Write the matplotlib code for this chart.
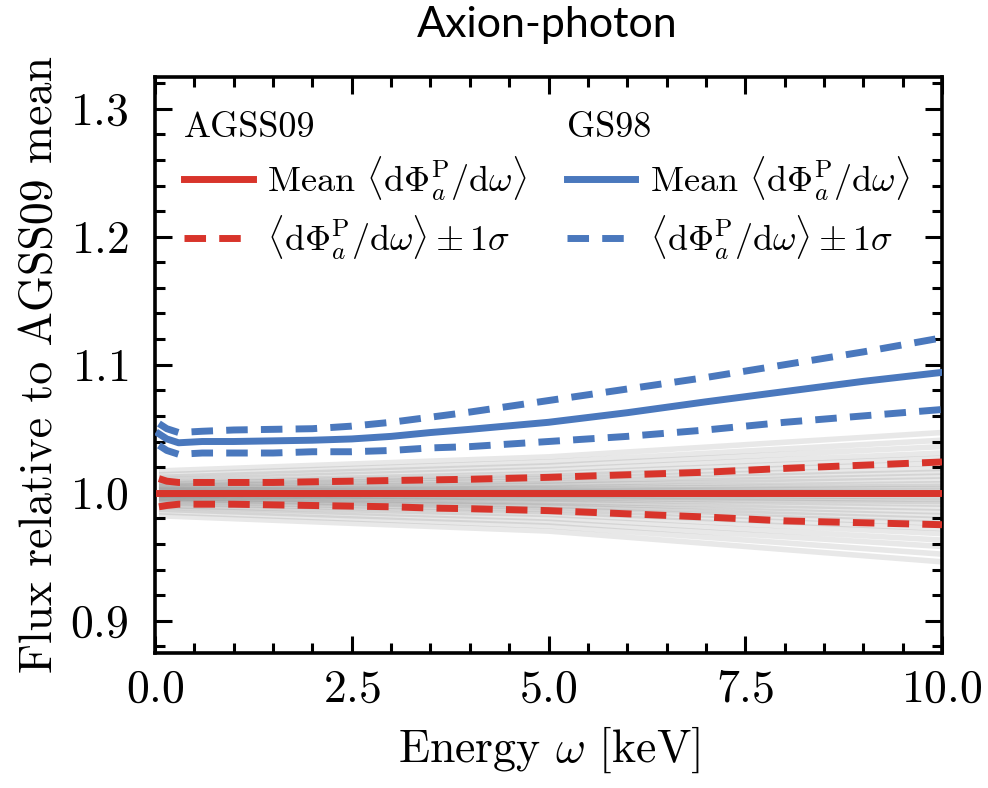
import numpy as np
import matplotlib
matplotlib.use("Agg")
import matplotlib.pyplot as plt
from matplotlib.ticker import MultipleLocator

plt.rcParams.update({
    "font.family": "serif",
    "font.serif": ["cmr10"],
    "mathtext.fontset": "cm",
    "axes.formatter.use_mathtext": True,
    "axes.unicode_minus": False,
})

# ---- data ----
energy_knots = [0.05, 0.15, 0.3, 0.6, 1.0, 1.5, 2.0, 2.5, 3.0, 3.5, 4.0,
                5.0, 6.0, 7.0, 8.0, 9.0, 10.0]
agss_mean = [1.000] * 17
agss_upper = [1.011, 1.009, 1.008, 1.008, 1.008, 1.008, 1.0085, 1.009, 1.0095, 1.010,
              1.0105, 1.012, 1.014, 1.016, 1.019, 1.0215, 1.024]
agss_lower = [0.989, 0.990, 0.991, 0.991, 0.991, 0.9905, 0.990, 0.9895, 0.989, 0.988,
              0.9875, 0.986, 0.9835, 0.981, 0.978, 0.9765, 0.975]
gs98_mean = [1.046, 1.042, 1.039, 1.040, 1.040, 1.0405, 1.041, 1.042, 1.044, 1.047,
             1.0495, 1.055, 1.0625, 1.071, 1.079, 1.087, 1.094]
gs98_upper = [1.054, 1.050, 1.047, 1.048, 1.049, 1.0495, 1.050, 1.052, 1.055, 1.059,
              1.063, 1.072, 1.081, 1.090, 1.100, 1.110, 1.121]
gs98_lower = [1.037, 1.033, 1.030, 1.031, 1.031, 1.031, 1.032, 1.032, 1.033, 1.035,
              1.036, 1.040, 1.044, 1.049, 1.055, 1.060, 1.065]

gray_knots = [0.05, 5.0, 10.0]
gray_start = [0.982, 0.985, 0.987, 0.989, 0.990, 0.992, 0.993, 0.994, 0.995, 0.996,
              0.996, 0.997, 0.998, 0.998, 0.999, 1.000, 1.000, 1.001, 1.002, 1.002,
              1.003, 1.004, 1.005, 1.006, 1.007, 1.008, 1.010, 1.012, 1.014, 1.017]
gray_mid = [0.970, 0.974, 0.977, 0.980, 0.983, 0.985, 0.987, 0.989, 0.990, 0.992,
            0.993, 0.995, 0.996, 0.997, 0.998, 0.999, 1.001, 1.002, 1.003, 1.004,
            1.006, 1.007, 1.009, 1.011, 1.013, 1.015, 1.018, 1.021, 1.024, 1.028]
gray_end = [0.946, 0.952, 0.958, 0.963, 0.968, 0.972, 0.976, 0.979, 0.982, 0.985,
            0.988, 0.991, 0.993, 0.995, 0.997, 0.999, 1.001, 1.003, 1.005, 1.007,
            1.010, 1.013, 1.016, 1.019, 1.023, 1.027, 1.031, 1.036, 1.041, 1.047]

RED = "#d8342b"
BLUE = "#4a78bd"

fig = plt.figure(figsize=(9.88, 7.88), dpi=100)
ax = fig.add_axes([155 / 988, 1 - 652.7 / 788, 787 / 988, 576 / 788])

for s, m, e in zip(gray_start, gray_mid, gray_end):
    ax.plot(gray_knots, [s, m, e], color="0.4", alpha=0.15, lw=4, zorder=1,
            solid_capstyle="butt")

lw = 5
dash = (3.1, 1.9)
l1, = ax.plot(energy_knots, agss_mean, color=RED, lw=lw, zorder=3)
l2, = ax.plot(energy_knots, agss_upper, color=RED, lw=lw, ls=(0, dash), zorder=3)
ax.plot(energy_knots, agss_lower, color=RED, lw=lw, ls=(0, dash), zorder=3)
l3, = ax.plot(energy_knots, gs98_mean, color=BLUE, lw=lw, zorder=3)
l4, = ax.plot(energy_knots, gs98_upper, color=BLUE, lw=lw, ls=(0, dash), zorder=3)
ax.plot(energy_knots, gs98_lower, color=BLUE, lw=lw, ls=(0, dash), zorder=3)

ax.set_xlim(0, 10)
ax.set_ylim(0.875, 1.325)
ax.xaxis.set_major_locator(MultipleLocator(2.5))
ax.xaxis.set_minor_locator(MultipleLocator(0.5))
ax.yaxis.set_major_locator(MultipleLocator(0.1))
ax.yaxis.set_minor_locator(MultipleLocator(0.02))
ax.tick_params(which="both", direction="in", top=True, right=True, width=2.2,
               labelsize=33)
ax.tick_params(axis="x", which="both", pad=12)
ax.tick_params(axis="y", which="both", pad=19)
ax.tick_params(which="major", length=12)
ax.tick_params(which="minor", length=7)
for sp in ax.spines.values():
    sp.set_linewidth(2.6)

ax.set_xlabel(r"Energy $\omega$ [keV]", fontsize=33, labelpad=10)
ax.set_ylabel("Flux relative to AGSS09 mean", fontsize=33, labelpad=7)

lab_mean = r"Mean $\langle \mathrm{d}\Phi_a^\mathrm{P}/\mathrm{d}\omega\rangle$"
lab_sig = r"$\langle \mathrm{d}\Phi_a^\mathrm{P}/\mathrm{d}\omega\rangle \pm 1\sigma$"

common = dict(loc="upper left", frameon=False, fontsize=26, title_fontsize=26,
              alignment="left", handlelength=1.9, handletextpad=0.4, borderpad=0,
              borderaxespad=0, labelspacing=0.3)
leg1 = ax.legend([l1, l2], [lab_mean, lab_sig], title="AGSS09",
                 bbox_to_anchor=(0.037, 0.938), **common)
ax.add_artist(leg1)
leg2 = ax.legend([l3, l4], [lab_mean, lab_sig], title="GS98",
                 bbox_to_anchor=(0.523, 0.938), **common)

fig.text(0.5535, 0.968, "Axion-photon", ha="center", va="center", fontsize=31,
         family="Lato")

fig.savefig("out.png", dpi=100)
